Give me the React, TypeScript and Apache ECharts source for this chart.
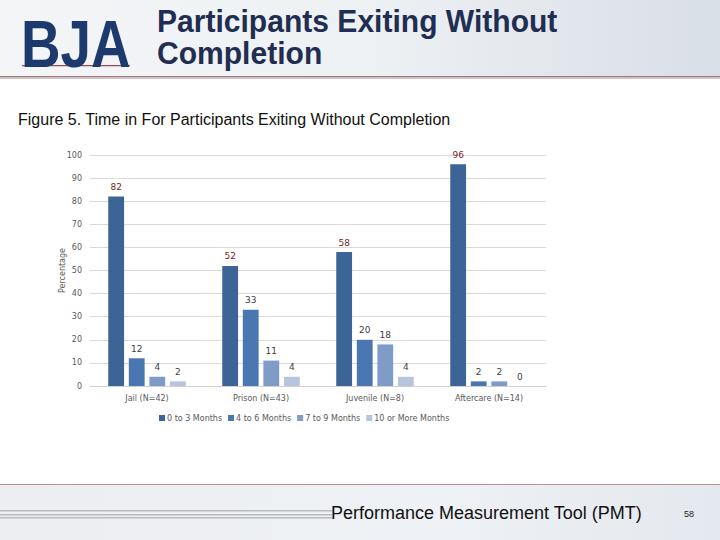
import React, { useEffect, useRef } from "react";
import * as echarts from "echarts";

const categories = ["Jail (N=42)", "Prison (N=43)", "Juvenile (N=8)", "Aftercare (N=14)"];
const seriesNames = ["0 to 3 Months", "4 to 6 Months", "7 to 9 Months", "10 or More Months"];
const months0to3 = [82, 52, 58, 96];
const months4to6 = [12, 33, 20, 2];
const months7to9 = [4, 11, 18, 2];
const months10plus = [2, 4, 4, 0];
const yTicks = [0, 10, 20, 30, 40, 50, 60, 70, 80, 90, 100];

const seriesColors = ["#3d6496", "#4a76b2", "#7f9bc7", "#b6c4dc"];
const labelColors = ["#7a1c1c", "#404040", "#404040", "#404040"];

export default function App() {
  const ref = useRef<HTMLDivElement>(null);
  useEffect(() => {
    if (!ref.current) return;
    const chart = echarts.init(ref.current, undefined, { renderer: "svg" });
    const values = [months0to3, months4to6, months7to9, months10plus];
    const font = "'DejaVu Sans', sans-serif";
    chart.setOption({
      animation: false,
      backgroundColor: "#ffffff",
      textStyle: { fontFamily: font },
      graphic: [
        {
          type: "rect",
          shape: { x: 0, y: 0, width: 720, height: 77 },
          style: {
            fill: new echarts.graphic.LinearGradient(0, 0, 1, 0, [
              { offset: 0, color: "#f3f5f7" },
              { offset: 0.5, color: "#eef1f4" },
              { offset: 1, color: "#d9dfe7" },
            ]),
          },
          z: -10,
        },
        { type: "rect", shape: { x: 0, y: 76, width: 720, height: 1.5 }, style: { fill: "#a8747a" }, z: -9 },
        { type: "rect", shape: { x: 0, y: 77.5, width: 720, height: 1.5 }, style: { fill: "#c9c9cc" }, z: -9 },
        {
          type: "rect",
          shape: { x: 0, y: 485, width: 720, height: 55 },
          style: {
            fill: new echarts.graphic.LinearGradient(0, 0, 1, 0, [
              { offset: 0, color: "#eceef1" },
              { offset: 0.6, color: "#eef1f5" },
              { offset: 1, color: "#e4e9ef" },
            ]),
          },
          z: -10,
        },
        { type: "rect", shape: { x: 0, y: 484, width: 720, height: 1 }, style: { fill: "#b89094" }, z: -9 },
        { type: "rect", shape: { x: 0, y: 510, width: 332, height: 1.5 }, style: { fill: "#b8bcc2" }, z: -9 },
        { type: "rect", shape: { x: 0, y: 514, width: 332, height: 1.5 }, style: { fill: "#b8bcc2" }, z: -9 },
        { type: "rect", shape: { x: 0, y: 517, width: 332, height: 1.5 }, style: { fill: "#b8bcc2" }, z: -9 },
        {
          type: "text",
          x: 21,
          y: 11,
          scaleX: 0.83,
          style: {
            text: "BJA",
            font: "bold 66px 'Liberation Sans', Arial, sans-serif",
            fill: "#1d3a6e",
          },
        },
        { type: "rect", shape: { x: 22, y: 65, width: 108, height: 1.2 }, style: { fill: "#9b4c55" }, z: -1 },
        {
          type: "text",
          x: 157,
          y: 5,
          scaleX: 0.97,
          style: {
            text: "Participants Exiting Without\nCompletion",
            font: "bold 31px 'Liberation Sans', Arial, sans-serif",
            fill: "#1f2e52",
            lineHeight: 32,
          },
        },
        {
          type: "text",
          x: 18,
          y: 111,
          style: {
            text: "Figure 5. Time in For Participants Exiting Without Completion",
            font: "16px 'Liberation Sans', Arial, sans-serif",
            fill: "#111111",
          },
        },
        {
          type: "text",
          x: 331,
          y: 504,
          style: {
            text: "Performance Measurement Tool (PMT)",
            font: "18px 'Liberation Sans', Arial, sans-serif",
            fill: "#111111",
          },
        },
        {
          type: "text",
          x: 684,
          y: 509,
          style: {
            text: "58",
            font: "9px 'Liberation Sans', Arial, sans-serif",
            fill: "#222222",
          },
        },
      ],
      grid: { left: 90, right: 174, top: 155, bottom: 154, containLabel: false },
      legend: {
        data: seriesNames,
        left: 154,
        top: 409,
        itemWidth: 6,
        itemHeight: 6,
        itemGap: 6,
        icon: "rect",
        textStyle: { fontSize: 8, color: "#595959", fontFamily: font, padding: [0, 0, 0, -3] },
      },
      xAxis: {
        type: "category",
        data: categories,
        axisLine: { lineStyle: { color: "#d0d0d0" } },
        axisTick: { show: false },
        axisLabel: { fontSize: 8, color: "#595959", margin: 8, fontFamily: font },
      },
      yAxis: {
        type: "value",
        min: yTicks[0],
        max: yTicks[yTicks.length - 1],
        interval: 10,
        name: "Percentage",
        nameLocation: "middle",
        nameGap: 24,
        nameMoveOverlap: false,
        nameTextStyle: { fontSize: 8, color: "#595959", fontFamily: font },
        axisLine: { show: false },
        axisTick: { show: false },
        axisLabel: { fontSize: 8, color: "#595959", margin: 8, fontFamily: font },
        splitLine: { lineStyle: { color: "#d9d9d9" } },
      },
      series: seriesNames.map((name, i) => ({
        name,
        type: "bar",
        data: values[i],
        barGap: "30%",
        barCategoryGap: "32%",
        itemStyle: { color: seriesColors[i] },
        label: {
          show: true,
          position: "top",
          distance: 5,
          fontSize: 9,
          color: labelColors[i],
          fontFamily: font,
        },
      })),
    });
    return () => chart.dispose();
  }, []);
  return (
    <div
      ref={ref}
      style={{ position: "fixed", left: 0, top: 0, width: 720, height: 540 }}
    />
  );
}
